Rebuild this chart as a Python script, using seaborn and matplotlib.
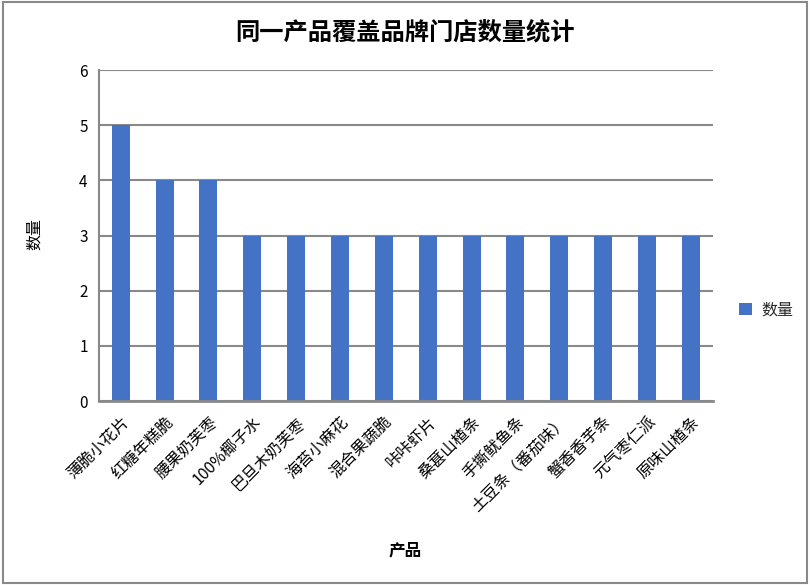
import matplotlib
matplotlib.use("Agg")
import matplotlib.pyplot as plt
import seaborn as sns
import pandas as pd
from matplotlib.patches import Rectangle, Patch

products = ["薄脆小花片", "红糖年糕脆", "腰果奶芙枣", "100%椰子水", "巴旦木奶芙枣",
            "海苔小麻花", "混合果蔬脆", "咔咔虾片", "桑葚山楂条", "手撕鱿鱼条",
            "土豆条（番茄味）", "蟹香香芋条", "元气枣仁派", "原味山楂条"]
counts = [5, 4, 4, 3, 3, 3, 3, 3, 3, 3, 3, 3, 3, 3]
yticks = [0, 1, 2, 3, 4, 5, 6]

sns.set_theme(style="white")
plt.rcParams['font.family'] = ['Noto Sans CJK SC', 'DejaVu Sans']

df = pd.DataFrame({"产品": products, "数量": counts})

fig = plt.figure(figsize=(8.1, 5.85), dpi=100)
ax = fig.add_axes([0.122, 0.3145, 0.758, 0.5655])

sns.barplot(data=df, x="产品", y="数量", color="#4472C4", width=0.41,
            saturation=1, linewidth=0, edgecolor="none", ax=ax)

ax.set_ylim(0, 6)
ax.set_yticks(yticks)
ax.set_yticklabels([str(v) for v in yticks], fontsize=11, color="black")
ax.set_xticks(range(len(products)))
ax.set_xticklabels(products, rotation=45, ha="right", va="top",
                   rotation_mode="anchor", fontsize=11.5, color="black")
ax.tick_params(axis="both", length=0, pad=8)
ax.tick_params(axis="x", pad=9)

ax.yaxis.grid(True, color="#898989", linewidth=1.5)
ax.xaxis.grid(False)
ax.set_axisbelow(True)
for s in ["top", "right"]:
    ax.spines[s].set_visible(False)
ax.spines["left"].set_color("#898989")
ax.spines["left"].set_linewidth(1.5)
ax.spines["bottom"].set_color("#898989")
ax.spines["bottom"].set_linewidth(2)

ax.set_xlabel("")
ax.set_ylabel("")
fig.text(0.5, 0.945, "同一产品覆盖品牌门店数量统计", ha="center", va="center",
         fontsize=17.5, fontweight="bold", color="black")
fig.text(0.5, 0.06, "产品", ha="center", va="center", fontsize=12,
         fontweight="bold", color="black")
fig.text(0.043, 0.6, "数量", ha="center", va="center", rotation=90,
         fontsize=11.5, color="black")

handle = Patch(facecolor="#4472C4", edgecolor="none")
fig.legend(handles=[handle], labels=["数量"], loc="center left",
           bbox_to_anchor=(0.895, 0.47), frameon=False, fontsize=11.5,
           handlelength=0.8, handleheight=0.8, handletextpad=0.6)

fig.patches.append(Rectangle((0.004, 0.003), 0.992, 0.994, transform=fig.transFigure,
                             fill=False, edgecolor="#898989", linewidth=1.5))

fig.savefig("out.png", dpi=100)
